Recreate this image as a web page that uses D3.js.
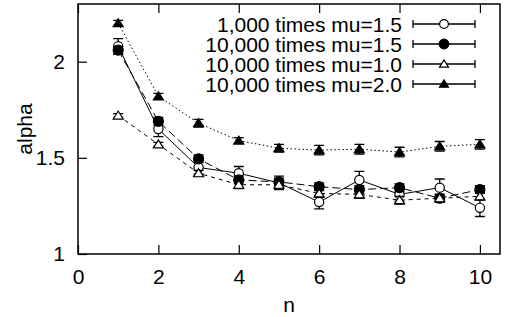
<!DOCTYPE html>
<html>
<head>
<meta charset="utf-8">
<script src="https://cdn.jsdelivr.net/npm/d3@7"></script>
<style>
  html, body { margin: 0; padding: 0; background: #fff; }
  svg text { font-family: "Liberation Sans", Arial, Helvetica, sans-serif; fill: #000; }
</style>
</head>
<body>
<div id="chart"></div>
<script>
// data
const nValues = [1, 2, 3, 4, 5, 6, 7, 8, 9, 10];
const seriesLabels = ["1,000 times mu=1.5", "10,000 times mu=1.5", "10,000 times mu=1.0", "10,000 times mu=2.0"];
const alpha1000mu15 = [2.08, 1.65, 1.45, 1.42, 1.37, 1.27, 1.385, 1.31, 1.345, 1.24];
const err1000mu15 = [0.04, 0.04, 0.035, 0.035, 0.035, 0.035, 0.045, 0.035, 0.045, 0.045];
const alpha10000mu15 = [2.06, 1.69, 1.495, 1.385, 1.375, 1.35, 1.335, 1.345, 1.29, 1.335];
const err10000mu15 = [0.02, 0.02, 0.02, 0.02, 0.02, 0.02, 0.02, 0.02, 0.02, 0.02];
const alpha10000mu10 = [1.72, 1.57, 1.42, 1.36, 1.36, 1.315, 1.31, 1.28, 1.29, 1.30];
const err10000mu10 = [0.01, 0.01, 0.015, 0.02, 0.02, 0.02, 0.02, 0.02, 0.02, 0.02];
const alpha10000mu20 = [2.20, 1.82, 1.68, 1.59, 1.55, 1.54, 1.545, 1.53, 1.56, 1.57];
const err10000mu20 = [0.015, 0.015, 0.02, 0.015, 0.02, 0.025, 0.025, 0.025, 0.025, 0.025];
const xTicks = [0, 2, 4, 6, 8, 10];
const yTicks = [1, 1.5, 2];

(function() {
  const width = 505;
  const height = 317;
  const margin = { top: 4, right: 5, bottom: 63, left: 78 };
  const fontSize = 21;

  const series = [
    { label: seriesLabels[0], values: alpha1000mu15, errs: err1000mu15, marker: "circle", filled: false, dash: null },
    { label: seriesLabels[1], values: alpha10000mu15, errs: err10000mu15, marker: "circle", filled: true, dash: "8,4" },
    { label: seriesLabels[2], values: alpha10000mu10, errs: err10000mu10, marker: "triangle", filled: false, dash: "4,4" },
    { label: seriesLabels[3], values: alpha10000mu20, errs: err10000mu20, marker: "triangle", filled: true, dash: "1.5,2.5" }
  ];

  const svg = d3.select("#chart").append("svg")
    .attr("width", width)
    .attr("height", height);

  const x = d3.scaleLinear()
    .domain([0, 10.5])
    .range([margin.left, width - margin.right]);

  const y = d3.scaleLinear()
    .domain([1, 2.3])
    .range([height - margin.bottom, margin.top]);

  // axes with inward ticks
  svg.append("g")
    .attr("transform", `translate(0,${height - margin.bottom})`)
    .call(d3.axisBottom(x).tickValues(xTicks).tickSize(-9).tickPadding(15).tickFormat(d3.format("d")));

  svg.append("g")
    .attr("transform", `translate(0,${margin.top})`)
    .call(d3.axisTop(x).tickValues(xTicks).tickSize(-9).tickFormat(""));

  svg.append("g")
    .attr("transform", `translate(${margin.left},0)`)
    .call(d3.axisLeft(y).tickValues(yTicks).tickSize(-9).tickPadding(13).tickFormat(d => d));

  svg.selectAll(".domain").remove();
  svg.selectAll(".tick line").attr("stroke", "#000").attr("stroke-width", 1.2);
  svg.selectAll(".tick text")
    .attr("font-size", fontSize)
    .attr("font-family", "'Liberation Sans', Arial, sans-serif");

  // frame
  svg.append("rect")
    .attr("x", margin.left)
    .attr("y", margin.top)
    .attr("width", width - margin.left - margin.right)
    .attr("height", height - margin.top - margin.bottom)
    .attr("fill", "none")
    .attr("stroke", "#000")
    .attr("stroke-width", 1.5);

  // axis titles
  svg.append("text")
    .attr("x", (x.range()[0] + x.range()[1]) / 2)
    .attr("y", 312)
    .attr("text-anchor", "middle")
    .attr("font-size", fontSize)
    .text("n");

  svg.append("text")
    .attr("transform", `translate(32,${(y.range()[0] + y.range()[1]) / 2}) rotate(-90)`)
    .attr("text-anchor", "middle")
    .attr("font-size", fontSize)
    .text("alpha");

  function drawMarker(g, s, cx, cy, r) {
    if (s.marker === "circle") {
      g.append("circle")
        .attr("cx", cx)
        .attr("cy", cy)
        .attr("r", s.filled ? r : r - 0.4)
        .attr("fill", s.filled ? "#000" : "#fff")
        .attr("stroke", "#000")
        .attr("stroke-width", 1.2);
    } else {
      g.append("path")
        .attr("d", `M${cx - r},${cy + r * 0.7} L${cx + r},${cy + r * 0.7} L${cx},${cy - r * 0.9} Z`)
        .attr("fill", s.filled ? "#000" : "#fff")
        .attr("stroke", "#000")
        .attr("stroke-width", 1.2);
    }
  }

  const line = d3.line()
    .x(d => x(d.n))
    .y(d => y(d.v));

  const cap = 5;

  series.forEach(s => {
    const pts = nValues.map((n, i) => ({ n: n, v: s.values[i], e: s.errs[i] }));
    const g = svg.append("g");

    g.append("path")
      .datum(pts)
      .attr("d", line)
      .attr("fill", "none")
      .attr("stroke", "#000")
      .attr("stroke-width", 1)
      .attr("stroke-dasharray", s.dash);

    pts.forEach(p => {
      const px = x(p.n);
      const top = y(p.v + p.e);
      const bot = y(p.v - p.e);
      g.append("path")
        .attr("d", `M${px},${top} L${px},${bot} M${px - cap},${top} L${px + cap},${top} M${px - cap},${bot} L${px + cap},${bot}`)
        .attr("stroke", "#000")
        .attr("stroke-width", 1.3)
        .attr("fill", "none");
      drawMarker(g, s, px, y(p.v), 5);
    });
  });

  // legend
  const legendRowY = [24, 44, 64, 84];
  const legend = svg.append("g");
  series.forEach((s, i) => {
    const ly = legendRowY[i];
    legend.append("text")
      .attr("x", 402)
      .attr("y", ly + 7.5)
      .attr("text-anchor", "end")
      .attr("font-size", fontSize)
      .text(s.label);

    legend.append("path")
      .attr("d", `M413,${ly} L475,${ly} M413,${ly - 4} L413,${ly + 4} M475,${ly - 4} L475,${ly + 4}`)
      .attr("stroke", "#000")
      .attr("stroke-width", 1.3)
      .attr("fill", "none");

    drawMarker(legend, s, 444, ly, s.marker === "triangle" ? 4.5 : 4.8);
  });
})();
</script>
</body>
</html>
